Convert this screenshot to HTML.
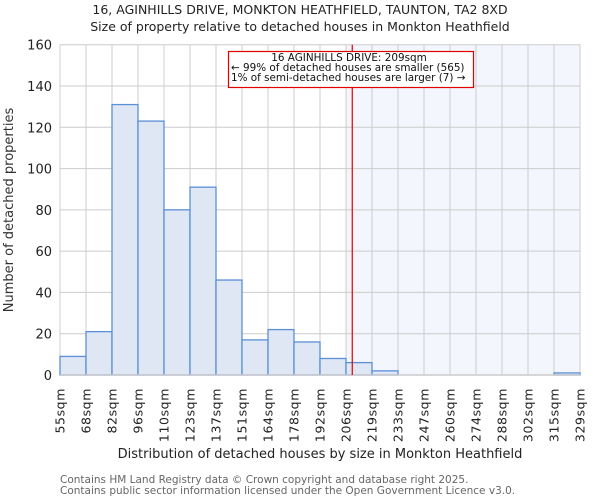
<!DOCTYPE html>
<html><head><meta charset="utf-8"><style>
body{margin:0;background:#fff;}
svg{display:block;font-family:"DejaVu Sans","Liberation Sans",sans-serif;}
</style></head><body>
<svg id="chart" width="600" height="500" viewBox="0 0 600 500">
<text x="300" y="14" text-anchor="middle" font-size="12.5" fill="#222">16, AGINHILLS DRIVE, MONKTON HEATHFIELD, TAUNTON, TA2 8XD</text>
<text x="300" y="31" text-anchor="middle" font-size="12.5" fill="#222">Size of property relative to detached houses in Monkton Heathfield</text>
<g id="plot"></g>
<text x="0" y="0" transform="translate(13,210) rotate(-90)" text-anchor="middle" font-size="13" fill="#333">Number of detached properties</text>
<text x="320" y="458" text-anchor="middle" font-size="13" fill="#222">Distribution of detached houses by size in Monkton Heathfield</text>
<text x="60" y="483" font-size="10.5" fill="#666">Contains HM Land Registry data © Crown copyright and database right 2025.</text>
<text x="60" y="494" font-size="10.5" fill="#666">Contains public sector information licensed under the Open Government Licence v3.0.</text>
</svg>
<script>
const binLabels = ["55sqm","68sqm","82sqm","96sqm","110sqm","123sqm","137sqm","151sqm","164sqm","178sqm","192sqm","206sqm","219sqm","233sqm","247sqm","260sqm","274sqm","288sqm","302sqm","315sqm","329sqm"];
const counts = [9,21,131,123,80,91,46,17,22,16,8,6,2,0,0,0,0,0,0,1];
const yTicks = [0,20,40,60,80,100,120,140,160];
const binStart = 55, binEnd = 329;
const propertySize = 209;
const annotationLines = ["16 AGINHILLS DRIVE: 209sqm","← 99% of detached houses are smaller (565)","1% of semi-detached houses are larger (7) →"];

const NS="http://www.w3.org/2000/svg";
const L=60,R=580,T=44.7,B=375,yMax=160;
const g=document.getElementById('plot');
const n=counts.length, bw=(R-L)/n;
const xBin=i=>L+i*bw;
const xVal=v=>L+(v-binStart)/(binEnd-binStart)*(R-L);
const y=v=>B-v/yMax*(B-T);
function mk(tag,attrs){const e=document.createElementNS(NS,tag);for(const k in attrs)e.setAttribute(k,attrs[k]);g.appendChild(e);return e;}
const pBin=Math.floor((propertySize-binStart)/(binEnd-binStart)*n);
let sh=mk('rect',{x:xBin(pBin),y:T,width:R-xBin(pBin),height:B-T,fill:'#f3f6fd'});


yTicks.forEach(t=>{
 let l=mk('line',{x1:L,x2:R,y1:y(t),y2:y(t),stroke:'#cccccc','stroke-width':1});
 
 
 let tx=mk('text',{x:L-8,y:y(t)+5,'text-anchor':'end','font-size':13,fill:'#222'});
 tx.textContent=t;
 
 
});
binLabels.forEach((lab,i)=>{
 let l=mk('line',{x1:xBin(i),x2:xBin(i),y1:T,y2:B,stroke:'#cccccc','stroke-width':1});
 
 
 let tx=mk('text',{x:0,y:0,transform:`translate(${xBin(i)+4.5},388) rotate(-90)`,'text-anchor':'end','font-size':12.5,'letter-spacing':'0.6',fill:'#222'});
 tx.textContent=lab;
 
 
});
counts.forEach((c,i)=>{
 if(c<=0)return;
 let r=mk('rect',{x:xBin(i),y:y(c),width:bw,height:B-y(c),fill:'#dfe7f4',stroke:'#5b8fd6','stroke-width':1.3});
 
 
});
let ax=mk('line',{x1:L,x2:R,y1:B,y2:B,stroke:'#cccccc','stroke-width':1.5});


let pl=mk('line',{x1:xVal(propertySize),x2:xVal(propertySize),y1:T,y2:B,stroke:'#e00000','stroke-width':1.2});


let box=mk('rect',{x:228.5,y:51.5,width:245,height:36,fill:'#fff',stroke:'#e00000','stroke-width':1.2});


annotationLines.forEach((s,i)=>{
 let tx=mk('text',{x:i==0?349:231,y:61+i*10,'text-anchor':i==0?'middle':'start','font-size':10.4,fill:'#111'});
 tx.textContent=s;
 
 
});
</script>
</body></html>
